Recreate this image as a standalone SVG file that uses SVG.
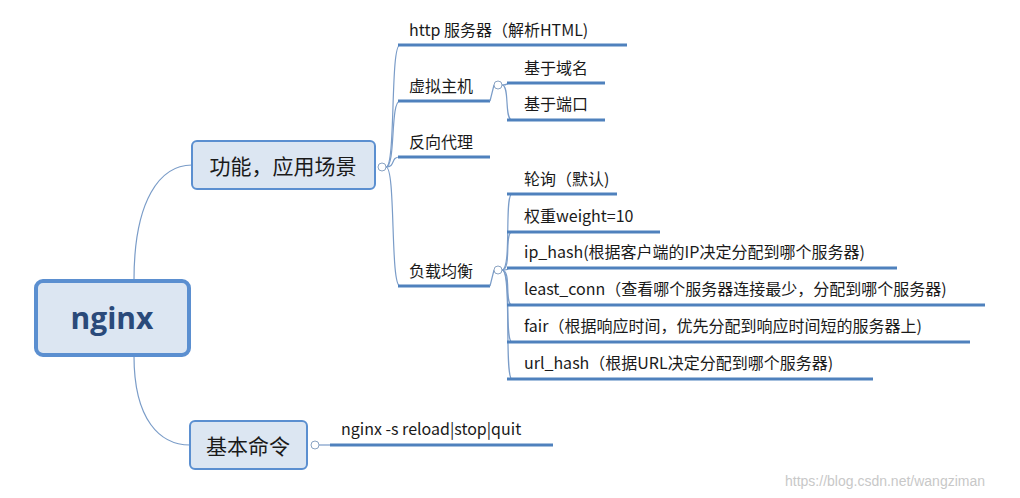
<svg xmlns="http://www.w3.org/2000/svg" width="1020" height="498" viewBox="0 0 1020 498">
<style>
.t{font-family:"Microsoft YaHei","Noto Sans CJK SC",sans-serif;fill:#1a1a1a}
.s{font-size:16px}
.u{stroke:#4f81bd;stroke-width:3;fill:none}
.c{stroke:#7a9cc8;stroke-width:1.2;fill:none}
.box{fill:#dce6f2;stroke:#5b8fd0}
.tg{fill:#fff;stroke:#8aa3c2;stroke-width:1}
</style>
<rect width="1020" height="498" fill="#fff"/>
<g id="connectors">
<path class="c" d="M134,280 C134,200 160,165 192,165"/>
<path class="c" d="M134,356 C134,420 160,445 190,445"/>
<path class="c" d="M386,167 C396,167 390,45 400,45"/>
<path class="c" d="M386,167 C396,167 390,101 400,101"/>
<path class="c" d="M386,167 C396,167 390,157 400,157"/>
<path class="c" d="M386,167 C396,167 390,286 400,286"/>
<path class="c" d="M502,85 C510,85 504,83 512,83"/>
<path class="c" d="M502,85 C510,85 504,120 512,120"/>
<path class="c" d="M502,270 C512,270 504,194 512,194"/>
<path class="c" d="M502,270 C512,270 504,232 512,232"/>
<path class="c" d="M502,270 C512,270 504,268 512,268"/>
<path class="c" d="M502,270 C512,270 504,305 512,305"/>
<path class="c" d="M502,270 C512,270 504,342 512,342"/>
<path class="c" d="M502,270 C512,270 504,379 512,379"/>
<path class="c" d="M319,445 L330,445"/>
<path class="u" d="M398,45H627M398,101H490M398,157H490M398,286H490"/>
<path class="u" d="M507,83H605M507,120H605M507,194H617M507,232H660M507,268H897M507,305H985M507,342H970M507,379H873M330,445H553"/>
<path class="c" d="M490,101 L494,85 M490,286 L494,270"/>
</g>
<g id="nginx"><rect class="box" x="36" y="281" width="153" height="74" rx="7" stroke-width="4"/><text x="112" y="329" text-anchor="middle" font-family="Open Sans,Noto Sans,sans-serif" font-weight="bold" font-size="30" fill="#2a4a7a">nginx</text></g>
<g id="func"><rect class="box" x="192" y="141" width="183" height="48" rx="5" stroke-width="2"/><text class="t" x="283" y="174" text-anchor="middle" font-size="21">功能，应用场景</text><circle class="tg" cx="382" cy="167" r="4"/></g>
<g id="cmd"><rect class="box" x="190" y="421" width="117" height="48" rx="5" stroke-width="2"/><text class="t" x="248" y="454" text-anchor="middle" font-size="21">基本命令</text><circle class="tg" cx="315" cy="445" r="4"/></g>
<g id="http"><text class="t s" x="409" y="36">http 服务器（解析HTML)</text></g>
<g id="vhost"><text class="t s" x="409" y="92">虚拟主机</text><circle class="tg" cx="498" cy="85" r="4"/></g>
<g id="d1"><text class="t s" x="524" y="74">基于域名</text></g>
<g id="d2"><text class="t s" x="524" y="110">基于端口</text></g>
<g id="proxy"><text class="t s" x="409" y="148">反向代理</text></g>
<g id="lb"><text class="t s" x="409" y="277">负载均衡</text><circle class="tg" cx="498" cy="270" r="4"/></g>
<g id="l1"><text class="t s" x="524" y="185">轮询（默认)</text></g>
<g id="l2"><text class="t s" x="524" y="222">权重weight=10</text></g>
<g id="l3"><text class="t s" x="524" y="258">ip_hash(根据客户端的IP决定分配到哪个服务器)</text></g>
<g id="l4"><text class="t s" x="524" y="295">least_conn（查看哪个服务器连接最少，分配到哪个服务器)</text></g>
<g id="l5"><text class="t s" x="524" y="332">fair（根据响应时间，优先分配到响应时间短的服务器上)</text></g>
<g id="l6"><text class="t s" x="524" y="369">url_hash（根据URL决定分配到哪个服务器)</text></g>
<g id="c1"><text class="t s" x="341" y="435">nginx -s reload|stop|quit</text></g>
<text x="785" y="486" font-family="Liberation Sans,sans-serif" font-size="14" fill="#c8c8c8">https://blog.csdn.net/wangziman</text>
</svg>
